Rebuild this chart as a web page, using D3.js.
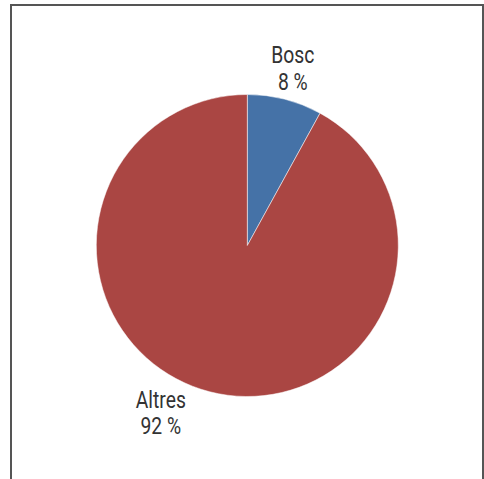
<!DOCTYPE html>
<html>
<head>
<meta charset="utf-8">
<script src="https://cdn.jsdelivr.net/npm/d3@7"></script>
<style>
  body { margin: 0; background: #fff; }
  svg text { font-family: Roboto, "Liberation Sans", sans-serif; font-size: 23px; fill: #333; }
</style>
</head>
<body>
<div id="chart"></div>
<script>
'use strict';

// categories + shares (%)
var categories = ['Bosc', 'Altres'];
var values = [8, 92];
var colors = ['#4572A7', '#AA4643'];

var width = 484, height = 479;
var cx = 247.3, cy = 245.5, radius = 151,
    labelRadius = 183,
    leftLabelShift = [-41, -10],
    narrow = 0.84;   // fake a condensed face

var svg = d3.select('#chart').append('svg')
    .attr('width', width)
    .attr('height', height);

// frame (open at the bottom, cut by the window)
svg.append('rect')
    .attr('x', 11).attr('y', 5)
    .attr('width', 472).attr('height', 520)
    .attr('fill', 'none')
    .attr('stroke', '#555')
    .attr('stroke-width', 2);

var data = categories.map(function(c, i) { return {name: c, value: values[i], color: colors[i]}; });

var pie = d3.pie()
    .sort(null)
    .value(function(d) { return d.value; });

var arc = d3.arc().innerRadius(0).outerRadius(radius);
var labelArc = d3.arc().innerRadius(labelRadius).outerRadius(labelRadius);

var g = svg.append('g')
    .attr('transform', 'translate(' + cx + ',' + cy + ')');

var arcs = pie(data);

g.selectAll('path.slice')
    .data(arcs)
  .enter().append('path')
    .attr('class', 'slice')
    .attr('d', arc)
    .attr('fill', function(d) { return d.data.color; })
    .attr('stroke', '#fff')
    .attr('stroke-width', 0.5);

var labels = g.selectAll('g.label')
    .data(arcs)
  .enter().append('g')
    .attr('class', 'label')
    .attr('transform', function(d) {
      var p = labelArc.centroid(d);
      var mid = (d.startAngle + d.endAngle) / 2;
      if (mid > Math.PI) { p[0] += leftLabelShift[0]; p[1] += leftLabelShift[1]; }
      return 'translate(' + p[0] + ',' + p[1] + ') scale(' + narrow + ',1)';
    });

labels.append('text')
    .attr('text-anchor', 'middle')
    .attr('y', -5)
    .text(function(d) { return d.data.name; });

labels.append('text')
    .attr('text-anchor', 'middle')
    .attr('y', 21.5)
    .text(function(d) { return d.data.value + ' %'; });
</script>
</body>
</html>
